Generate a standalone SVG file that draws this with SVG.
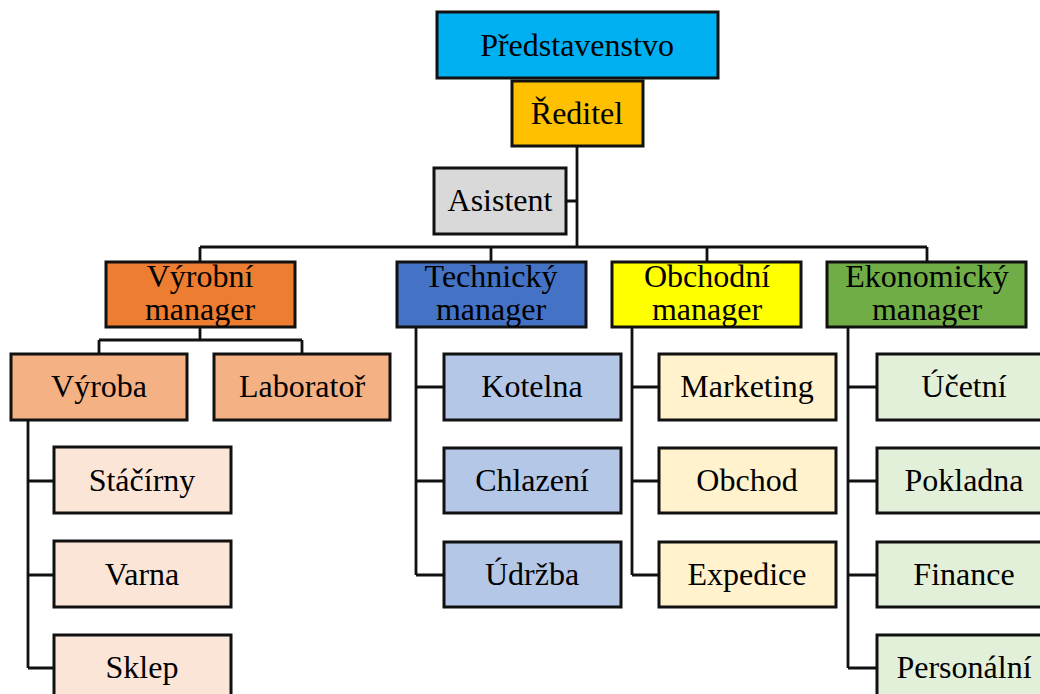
<svg xmlns="http://www.w3.org/2000/svg" width="1040" height="694" viewBox="0 0 1040 694">
<style>
.b{stroke:#111;stroke-width:3}
text{font-family:"Liberation Serif","Times New Roman",serif;font-size:32px;fill:#000;text-anchor:middle}
.c{fill:none;stroke:#111;stroke-width:2.8}
</style>
<rect width="1040" height="694" fill="#fff"/>
<g id="connectors" class="c">
<path d="M577 146V247M566 201H577M200 247H927M200 247V262M491 247V262M707 247V262M927 247V262"/>
<path d="M200 327V340M99 340H302M99 340V354M302 340V354"/>
<path d="M28 420V668M28 481H54M28 575H54M28 668H54"/>
<path d="M416 327V575M416 387H444M416 481H444M416 575H444"/>
<path d="M632 327V575M632 387H659M632 481H659M632 575H659"/>
<path d="M848 327V668M848 387H877M848 481H877M848 575H877M848 668H877"/>
</g>
<g id="predstavenstvo"><rect class="b" x="437" y="12" width="281" height="66" fill="#00B0F0"/><text x="577" y="56">Představenstvo</text></g>
<g id="reditel"><rect class="b" x="512" y="81" width="131" height="65" fill="#FFC000"/><text x="577" y="124">Ředitel</text></g>
<g id="asistent"><rect class="b" x="434" y="168" width="132" height="66" fill="#D9D9D9"/><text x="500" y="211">Asistent</text></g>
<g id="vyrobni"><rect class="b" x="106" y="262" width="189" height="65" fill="#ED7D31"/><text x="200" y="287">Výrobní</text><text x="200" y="320">manager</text></g>
<g id="technicky"><rect class="b" x="397" y="262" width="189" height="65" fill="#4472C4"/><text x="491" y="287">Technický</text><text x="491" y="320">manager</text></g>
<g id="obchodni"><rect class="b" x="612" y="262" width="189" height="65" fill="#FFFF00"/><text x="707" y="287">Obchodní</text><text x="707" y="320">manager</text></g>
<g id="ekonomicky"><rect class="b" x="827" y="262" width="199" height="65" fill="#70AD47"/><text x="927" y="287">Ekonomický</text><text x="927" y="320">manager</text></g>
<g id="vyroba"><rect class="b" x="11" y="354" width="176" height="66" fill="#F4B183"/><text x="99" y="397">Výroba</text></g>
<g id="laborator"><rect class="b" x="214" y="354" width="176" height="66" fill="#F4B183"/><text x="302" y="397">Laboratoř</text></g>
<g id="stacirny"><rect class="b" x="54" y="447" width="177" height="66" fill="#FBE5D6"/><text x="142" y="491">Stáčírny</text></g>
<g id="varna"><rect class="b" x="54" y="541" width="177" height="66" fill="#FBE5D6"/><text x="142" y="585">Varna</text></g>
<g id="sklep"><rect class="b" x="54" y="635" width="177" height="66" fill="#FBE5D6"/><text x="142" y="678">Sklep</text></g>
<g id="kotelna"><rect class="b" x="444" y="354" width="177" height="66" fill="#B4C7E7"/><text x="532" y="397">Kotelna</text></g>
<g id="chlazeni"><rect class="b" x="444" y="448" width="177" height="65" fill="#B4C7E7"/><text x="532" y="491">Chlazení</text></g>
<g id="udrzba"><rect class="b" x="444" y="542" width="177" height="65" fill="#B4C7E7"/><text x="532" y="585">Údržba</text></g>
<g id="marketing"><rect class="b" x="659" y="354" width="177" height="66" fill="#FFF2CC"/><text x="747" y="397">Marketing</text></g>
<g id="obchod"><rect class="b" x="659" y="448" width="177" height="65" fill="#FFF2CC"/><text x="747" y="491">Obchod</text></g>
<g id="expedice"><rect class="b" x="659" y="542" width="177" height="65" fill="#FFF2CC"/><text x="747" y="585">Expedice</text></g>
<g id="ucetni"><rect class="b" x="877" y="354" width="177" height="66" fill="#E2F0D9"/><text x="964" y="397">Účetní</text></g>
<g id="pokladna"><rect class="b" x="877" y="448" width="177" height="65" fill="#E2F0D9"/><text x="964" y="491">Pokladna</text></g>
<g id="finance"><rect class="b" x="877" y="542" width="177" height="65" fill="#E2F0D9"/><text x="964" y="585">Finance</text></g>
<g id="personalni"><rect class="b" x="877" y="635" width="177" height="66" fill="#E2F0D9"/><text x="964" y="678">Personální</text></g>
</svg>
